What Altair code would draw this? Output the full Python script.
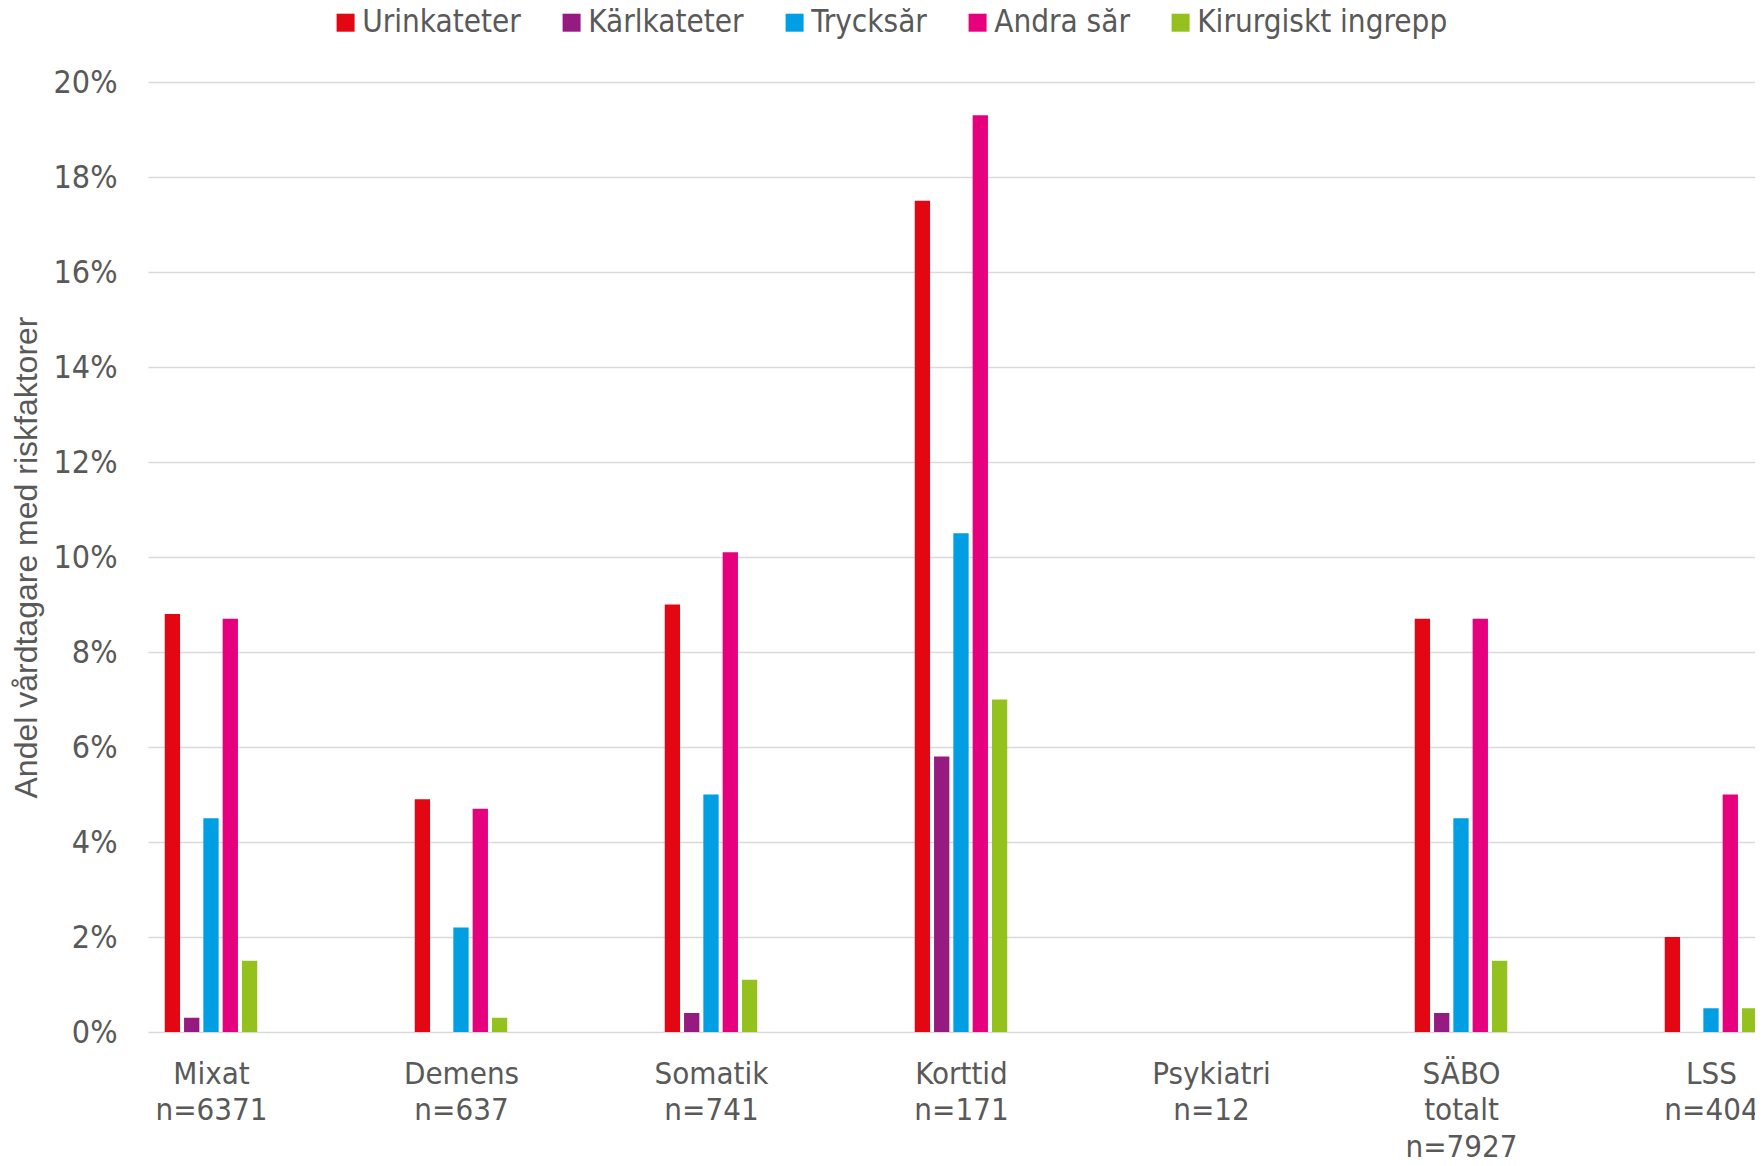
import json
import altair as alt
import pandas as pd

categories = ["Mixat", "Demens", "Somatik", "Korttid", "Psykiatri", "SÄBO totalt", "LSS"]
category_labels = [
    ["Mixat", "n=6371"],
    ["Demens", "n=637"],
    ["Somatik", "n=741"],
    ["Korttid", "n=171"],
    ["Psykiatri", "n=12"],
    ["SÄBO", "totalt", "n=7927"],
    ["LSS", "n=404"],
]
series = ["Urinkateter", "Kärlkateter", "Trycksår", "Andra sår", "Kirurgiskt ingrepp"]
colors = ["#E30613", "#951B81", "#009FE3", "#E6007E", "#95C11F"]

urinkateter = [8.8, 4.9, 9.0, 17.5, 0.0, 8.7, 2.0]
karlkateter = [0.3, 0.0, 0.4, 5.8, 0.0, 0.4, 0.0]
trycksar = [4.5, 2.2, 5.0, 10.5, 0.0, 4.5, 0.5]
andra_sar = [8.7, 4.7, 10.1, 19.3, 0.0, 8.7, 5.0]
kirurgiskt = [1.5, 0.3, 1.1, 7.0, 0.0, 1.5, 0.5]

y_ticks = [0, 0.02, 0.04, 0.06, 0.08, 0.10, 0.12, 0.14, 0.16, 0.18, 0.20]

values = [urinkateter, karlkateter, trycksar, andra_sar, kirurgiskt]
rows = []
for si, (name, vals) in enumerate(zip(series, values)):
    for ci, (cat, v) in enumerate(zip(categories, vals)):
        rows.append({"kategori": cat, "ci": ci, "serie": name, "si": si, "andel": v / 100})
df = pd.DataFrame(rows)

TICK_FONT = "DejaVu Sans Condensed, DejaVu Sans"
GREY = "#595959"

label_expr = json.dumps(category_labels, ensure_ascii=False) + "[round(datum.value)]"

chart = (
    alt.Chart(df)
    .transform_calculate(pos="datum.ci + (datum.si - 2) * 0.0772")
    .mark_bar(size=15.3)
    .encode(
        x=alt.X(
            "pos:Q",
            scale=alt.Scale(domain=[-0.252, 6.176], nice=False, zero=False, padding=0),
            axis=alt.Axis(
                title=None,
                values=list(range(len(categories))),
                labelExpr=label_expr,
                grid=False,
                ticks=False,
                tickSize=0,
                domain=False,
                labelFont=TICK_FONT,
                labelFontSize=31,
                labelColor=GREY,
                labelPadding=27,
                labelLineHeight=36.5,
                labelBaseline="top",
                labelOverlap=False,
                labelFlush=False,
            ),
        ),
        y=alt.Y(
            "andel:Q",
            scale=alt.Scale(domain=[0, 0.2], nice=False),
            axis=alt.Axis(
                title="Andel vårdtagare med riskfaktorer",
                values=y_ticks,
                format=".0%",
                grid=True,
                gridColor="#d9d9d9",
                gridWidth=1.5,
                ticks=False,
                tickSize=0,
                domain=False,
                labelFont=TICK_FONT,
                labelFontSize=32,
                labelColor=GREY,
                labelPadding=31,
                titleFont="Liberation Sans",
                titleFontSize=32,
                titleFontWeight="normal",
                titleColor=GREY,
                titlePadding=10,
            ),
        ),
        color=alt.Color(
            "serie:N",
            sort=series,
            scale=alt.Scale(domain=series, range=colors),
            legend=alt.Legend(
                title=None,
                orient="none",
                direction="horizontal",
                legendX=182,
                legendY=-75,
                symbolType="square",
                symbolSize=324,
                symbolStrokeWidth=0,
                symbolOpacity=1,
                labelFont=TICK_FONT,
                labelFontSize=31.2,
                labelColor=GREY,
                labelOffset=1,
                labelLimit=0,
                columnPadding=35,
            ),
        ),
    )
    .properties(
        width=1607,
        height=950,
        autosize=alt.AutoSizeParams(type="none"),
        padding={"left": 140, "top": 74, "right": 0, "bottom": 126},
    )
    .configure_view(stroke=None)
)

chart.save("out.html", embed_options={"renderer": "svg", "actions": False})
